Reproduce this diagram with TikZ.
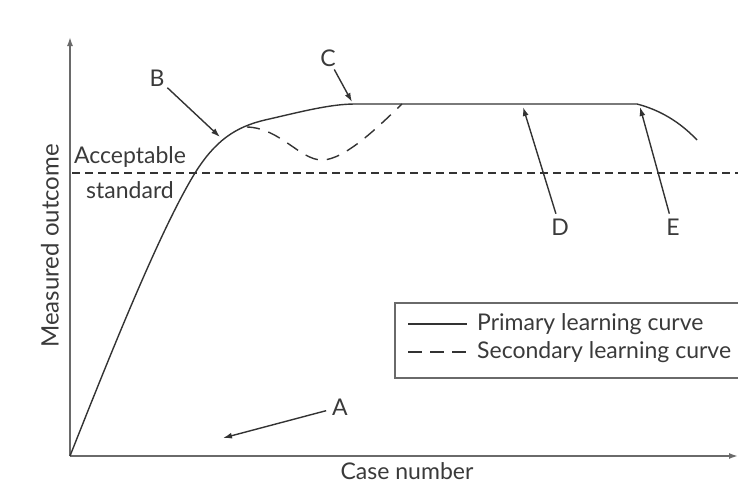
\documentclass[tikz,border=0pt]{standalone}
\usepackage{fontspec}
\setmainfont{Lato}
\usetikzlibrary{arrows.meta,positioning,calc}
\definecolor{curvegray}{HTML}{333333}
\definecolor{axisgray}{HTML}{6A6A6A}
\definecolor{textgray}{HTML}{3A3A3A}

\begin{document}
\begin{tikzpicture}[x=1pt, y=-1pt,
    tag/.style={font=\fontsize{23}{27}\selectfont, text=textgray, inner sep=2pt},
    axistext/.style={font=\fontsize{23}{27}\selectfont, text=textgray, inner sep=0pt},
    legtext/.style={font=\fontsize{23}{27}\selectfont, text=textgray, inner sep=0pt, anchor=west},
    pointer/.style={-{Latex[length=9pt,width=6pt]}, line width=1.4pt, color=curvegray},
    axis/.style={-{Latex[length=9pt,width=6pt]}, line width=1.6pt, color=axisgray},
    primary/.style={line width=1.4pt, color=curvegray},
    secondary/.style={line width=1.4pt, color=curvegray, dash pattern=on 13pt off 9pt},
    standard/.style={line width=1.2pt, color=curvegray, dash pattern=on 8pt off 5pt},
    legbox/.style={draw=axisgray, line width=1.3pt, minimum width=346pt, minimum height=75pt}
]
\useasboundingbox (0,0) rectangle (738,485);

% --- axes ---
\coordinate (origin) at (70,456);
\coordinate (ytop) at (70,37);
\coordinate (xend) at (738,456);
\draw[axis] (origin) -- (ytop);
\draw[axis] (origin) -- (xend);
\node[axistext, rotate=90, font=\fontsize{24}{28}\selectfont] (ylab) at (50,246) {Measured outcome};
\node[axistext] (xlab) at (407,471) {Case number};

% --- acceptable standard ---
\draw[standard] (72,173) -- (738,173);
\node[axistext] (accept) at (130,157) {Acceptable};
\node[axistext] (stand) at (130,190) {standard};

% --- learning curves ---
\draw[primary] (origin) .. controls (110,355) and (160,230) .. (195,173)
    .. controls (215,141) and (235,127) .. (265,120)
    .. controls (300,112) and (330,104) .. (355,104)
    -- (637,104)
    .. controls (660,110) and (680,122) .. (697,140);
\draw[secondary] (247,127) .. controls (280,128) and (300,160) .. (322,160)
    .. controls (345,160) and (380,125) .. (402,104);

% --- pointers ---
\node[tag] (lblA) at (340,407) {A};
\node[tag] (lblB) at (157,78) {B};
\node[tag] (lblC) at (328,58) {C};
\node[tag] (lblD) at (560,227) {D};
\node[tag] (lblE) at (673,227) {E};
\coordinate (tipA) at (223,438);
\coordinate (tipB) at (220,137);
\coordinate (tipC) at (352,102);
\coordinate (tipD) at (523,107);
\coordinate (tipE) at (640,107);
\draw[pointer, shorten <=4pt] (lblA) -- (tipA);
\draw[pointer, shorten <=1pt] (lblB) -- (tipB);
\draw[pointer, shorten <=1pt] (lblC) -- (tipC);
\draw[pointer, shorten <=3pt] (lblD) -- (tipD);
\draw[pointer, shorten <=3pt] (lblE) -- (tipE);

% --- legend ---
\node[legbox] (legend) at (568,340.5) {};
\draw[primary] (408,324) -- (467,324);
\draw[primary, dash pattern=on 14pt off 8pt] (408,352) -- (467,352);
\node[legtext] (legprim) at (477,324) {Primary learning curve};
\node[legtext] (legsec) at (477,352) {Secondary learning curve};

\end{tikzpicture}
\end{document}
